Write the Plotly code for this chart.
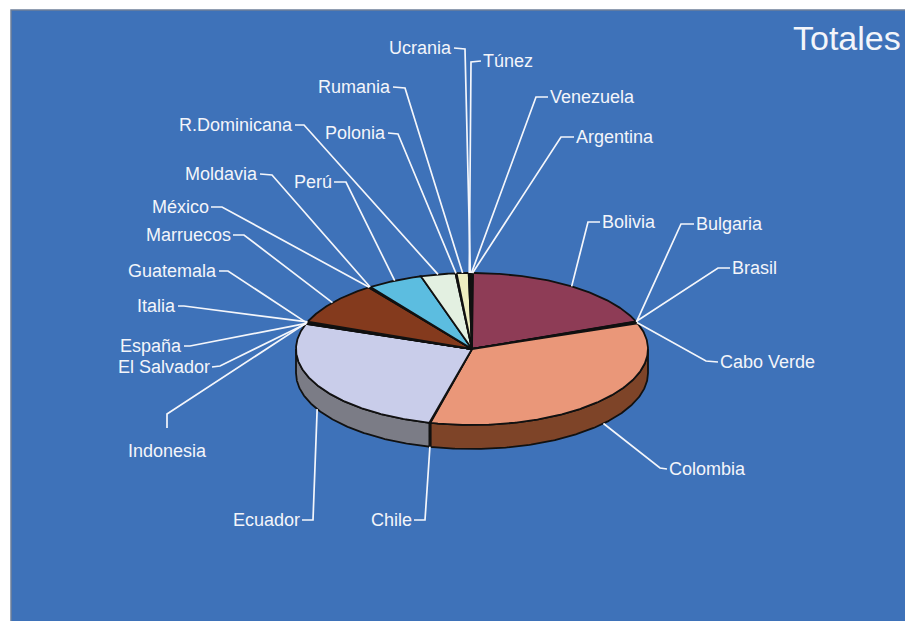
import numpy as np
import plotly.graph_objects as go

# ---------------- data (clockwise from 12 o'clock) ----------------
countries = ["Argentina", "Bolivia", "Brasil", "Bulgaria", "Cabo Verde", "Colombia",
             "Chile", "Ecuador", "El Salvador", "España", "Guatemala", "Indonesia",
             "Italia", "Marruecos", "México", "Moldavia", "Perú", "R.Dominicana",
             "Polonia", "Rumania", "Túnez", "Ucrania", "Venezuela"]
totals = [1, 190, 1, 1, 1, 345,
          1, 265, 1, 1, 1, 1,
          1, 92, 1, 1, 51, 32,
          1, 11, 1, 1, 1]
chart_title = "Totales"

# ---------------- styles ----------------
BG_BLUE = "#3e72b9"
TEXT_COL = "#f3f5fa"
FONT = "Liberation Sans"
top_colors = {
    "Bolivia": "#8e3c56", "Colombia": "#ea9779", "Ecuador": "#c9cdea",
    "Marruecos": "#843a1d", "Perú": "#5cbde0", "R.Dominicana": "#e3f0e1",
    "Rumania": "#eeeec0",
}
side_colors = {
    "Colombia": "#7e4428", "Ecuador": "#7b7c86",
}
DEFAULT_TOP = "#4a3a36"
DEFAULT_SIDE = "#4a3a36"

# pie geometry in pixel space (x right, y down)
CX, CY, RX, RY, DEPTH = 472, 349, 176, 76, 24

# label layout: elbow point, text point, xanchor
label_layout = {
    "Argentina":    ((561, 137), (574, 137), "left"),
    "Bolivia":      ((588, 222), (600, 222), "left"),
    "Brasil":       ((718, 268), (730, 268), "left"),
    "Bulgaria":     ((681, 224), (694, 224), "left"),
    "Cabo Verde":   ((706, 361), (718, 362), "left"),
    "Colombia":     ((660, 468), (667, 469), "left"),
    "Chile":        ((425, 520), (414, 520), "right"),
    "Ecuador":      ((313, 520), (302, 520), "right"),
    "El Salvador":  ((220, 366), (212, 367), "right"),
    "España":       ((190, 346), (184, 346), "right"),
    "Guatemala":    ((228, 271), (219, 271), "right"),
    "Indonesia":    ((167, 414), (167, 428), "below"),
    "Italia":       ((184, 306), (178, 306), "right"),
    "Marruecos":    ((244, 235), (233, 235), "right"),
    "México":       ((222, 207), (211, 207), "right"),
    "Moldavia":     ((272, 175), (260, 174), "right"),
    "Perú":         ((346, 182), (334, 182), "right"),
    "R.Dominicana": ((304, 125), (295, 125), "right"),
    "Polonia":      ((398, 134), (388, 133), "right"),
    "Rumania":      ((405, 88), (393, 87), "right"),
    "Túnez":        ((471, 62), (481, 61), "left"),
    "Ucrania":      ((465, 49), (454, 48), "right"),
    "Venezuela":    ((536, 97), (548, 97), "left"),
}

W, H = 905, 621


def ell(t_deg, dy=0.0):
    t = np.radians(t_deg)
    return CX + RX * np.cos(t), CY - RY * np.sin(t) + dy


fig = go.Figure()

total = float(sum(totals))
slices = []
start = 90.0
for name, v in zip(countries, totals):
    sweep = 360.0 * v / total
    slices.append((name, start, start - sweep))
    start -= sweep

# side walls (front half only: t in [-180, 0])
for name, t0, t1 in slices:
    lo, hi = max(t1, -180.0), min(t0, 0.0)
    if hi <= lo:
        continue
    ts = np.linspace(hi, lo, max(3, int((hi - lo) * 2)))
    xs, ys = ell(ts)
    xb, yb = ell(ts[::-1], DEPTH)
    px = np.concatenate([xs, xb, xs[:1]])
    py = np.concatenate([ys, yb, ys[:1]])
    fig.add_trace(go.Scatter(x=px, y=py, mode="lines", fill="toself",
                             fillcolor=side_colors.get(name, DEFAULT_SIDE),
                             line=dict(color="#111111", width=1.8),
                             hoverinfo="skip", showlegend=False))

# top faces
for name, t0, t1 in slices:
    ts = np.linspace(t0, t1, max(3, int((t0 - t1) * 2)))
    xs, ys = ell(ts)
    px = np.concatenate([[CX], xs, [CX]])
    py = np.concatenate([[CY], ys, [CY]])
    fig.add_trace(go.Scatter(x=px, y=py, mode="lines", fill="toself",
                             fillcolor=top_colors.get(name, DEFAULT_TOP),
                             line=dict(color="#111111", width=1.8),
                             name=name, hoverinfo="name", showlegend=False))

# leader lines + labels
annotations = []
for name, t0, t1 in slices:
    tm = 0.5 * (t0 + t1)
    dy = DEPTH if np.sin(np.radians(tm)) < 0 else 0.0
    ax, ay = ell(tm, dy)
    (ex, ey), (tx, ty), anch = label_layout[name]
    fig.add_trace(go.Scatter(x=[ax, ex, tx], y=[ay, ey, ty], mode="lines",
                             line=dict(color="#f4f6fb", width=1.7),
                             hoverinfo="skip", showlegend=False))
    if anch == "below":
        annotations.append(dict(x=tx, y=ty + 11, text=name, showarrow=False,
                                xanchor="center", yanchor="top",
                                font=dict(family=FONT, size=18, color=TEXT_COL)))
    else:
        annotations.append(dict(x=tx, y=ty, text=name, showarrow=False,
                                xanchor=anch, yanchor="middle",
                                xshift=0,
                                font=dict(family=FONT, size=18, color=TEXT_COL)))

annotations.append(dict(x=791, y=38, text=chart_title, showarrow=False,
                        xanchor="left", yanchor="middle",
                        font=dict(family=FONT, size=34, color=TEXT_COL)))

fig.update_layout(
    width=W, height=H, margin=dict(l=0, r=0, t=0, b=0),
    paper_bgcolor="white", plot_bgcolor="white",
    xaxis=dict(range=[0, W], visible=False, fixedrange=True),
    yaxis=dict(range=[H, 0], visible=False, fixedrange=True),
    shapes=[dict(type="rect", xref="x", yref="y", x0=11, y0=10, x1=W + 5, y1=H + 5,
                 fillcolor=BG_BLUE, line=dict(color="#6d7f99", width=1.5),
                 layer="below")],
    annotations=annotations,
)

fig.write_html("out.html", config={"displayModeBar": False},
               post_script="document.body.style.margin='0';document.body.style.overflow='hidden';")
